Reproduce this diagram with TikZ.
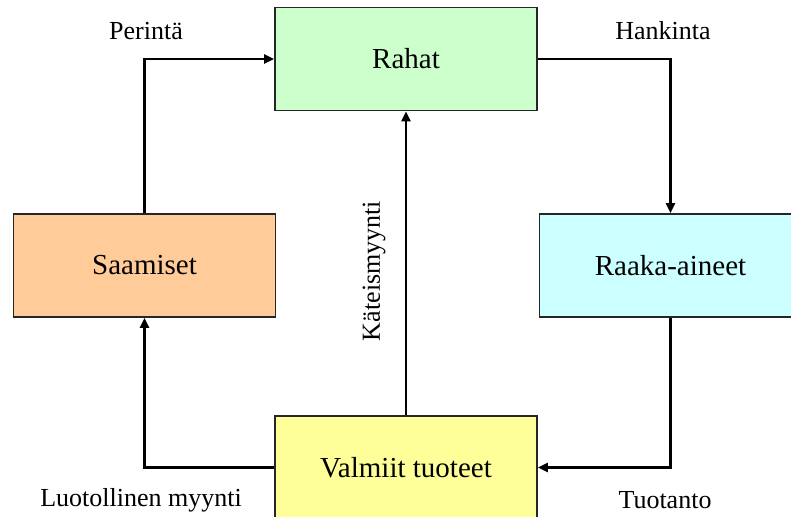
\documentclass[tikz,border=0pt]{standalone}
\usepackage{fontspec}
\setmainfont{Liberation Serif}
\usetikzlibrary{arrows.meta}
\definecolor{cgreen}{HTML}{CCFFCC}
\definecolor{corange}{HTML}{FFCC99}
\definecolor{ccyan}{HTML}{CCFFFF}
\definecolor{cyellow}{HTML}{FFFF99}
\tikzset{
  box/.style={draw=black!85, line width=1.6pt, minimum width=262pt, minimum height=103pt, inner sep=0pt, font=\fontsize{29}{32}\selectfont},
  lbl/.style={inner sep=0pt, font=\fontsize{26}{30}\selectfont},
  conn/.style={line width=2.3pt, -{Triangle[length=10pt,width=9pt]}}
}
\begin{document}
\begin{tikzpicture}[x=1pt,y=-1pt]
\useasboundingbox (0,0) rectangle (791,516);
\clip (0,0) rectangle (791,516);
\node[box, fill=cgreen] (rahat) at (406,59) {Rahat};
\node[box, fill=corange] (saam) at (144.5,265.5) {Saamiset};
\node[box, fill=ccyan] (raaka) at (670.5,265.5) {Raaka-aineet};
\node[box, fill=cyellow] (valm) at (406,467.5) {Valmiit tuoteet};
\draw[conn] (saam.north) |- (rahat.west);
\draw[conn] (rahat.east) -| (raaka.north);
\draw[conn] (raaka.south) |- (valm.east);
\draw[conn] (valm.west) -| (saam.south);
\draw[conn] (valm.north) -- (rahat.south);
\node[lbl] (l1) at (146,31) {Perintä};
\node[lbl] (l2) at (663,31) {Hankinta};
\node[lbl] (l3) at (141,500) {Luotollinen myynti};
\node[lbl] (l4) at (665,500) {Tuotanto};
\node[lbl, rotate=90] (l5) at (374,271) {Käteismyynti};
\end{tikzpicture}
\end{document}
